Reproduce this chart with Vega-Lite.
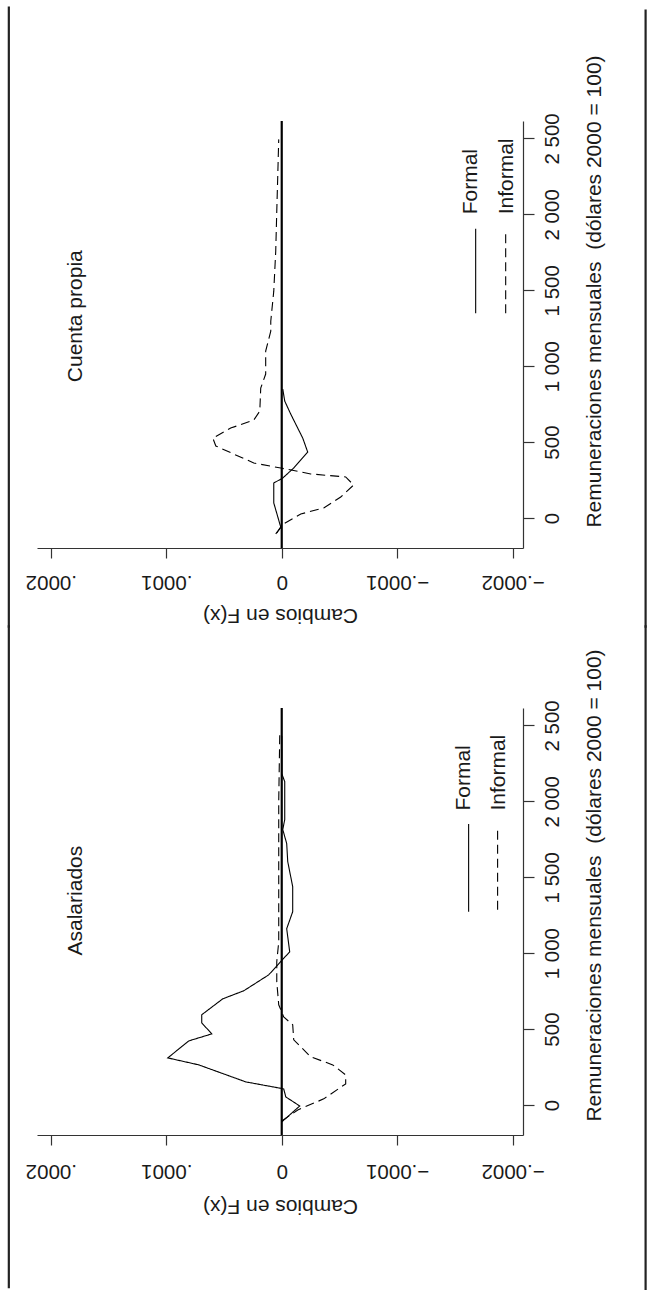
{
  "$schema": "https://vega.github.io/schema/vega-lite/v6.json",
  "padding": {"left": 7, "top": 5, "right": 0, "bottom": 0},
  "background": "white",
  "config": {
    "view": {"stroke": null},
    "font": "Liberation Sans",
    "axis": {"grid": false, "domainColor": "#333333", "domainWidth": 1.2, "tickColor": "#333333", "tickWidth": 1.2, "labelColor": "#1a1a1a", "titleColor": "#1a1a1a", "labelFontSize": 20.5, "titleFontSize": 21, "titleFontWeight": "normal", "tickSize": 10, "labelFont": "Liberation Sans", "titleFont": "Liberation Sans"}
  },
  "datasets": {
    "curves": [
      {"panel": "Asalariados", "tipo": "Formal", "rem": -112, "cambio": 0},
      {"panel": "Asalariados", "tipo": "Formal", "rem": -7, "cambio": -0.0000156},
      {"panel": "Asalariados", "tipo": "Formal", "rem": 53, "cambio": -0.0000035},
      {"panel": "Asalariados", "tipo": "Formal", "rem": 106, "cambio": -0.0000017},
      {"panel": "Asalariados", "tipo": "Formal", "rem": 152, "cambio": 0.0000312},
      {"panel": "Asalariados", "tipo": "Formal", "rem": 264, "cambio": 0.0000719},
      {"panel": "Asalariados", "tipo": "Formal", "rem": 310, "cambio": 0.0000987},
      {"panel": "Asalariados", "tipo": "Formal", "rem": 422, "cambio": 0.0000805},
      {"panel": "Asalariados", "tipo": "Formal", "rem": 468, "cambio": 0.0000606},
      {"panel": "Asalariados", "tipo": "Formal", "rem": 541, "cambio": 0.0000693},
      {"panel": "Asalariados", "tipo": "Formal", "rem": 594, "cambio": 0.0000693},
      {"panel": "Asalariados", "tipo": "Formal", "rem": 699, "cambio": 0.0000511},
      {"panel": "Asalariados", "tipo": "Formal", "rem": 752, "cambio": 0.0000329},
      {"panel": "Asalariados", "tipo": "Formal", "rem": 857, "cambio": 0.0000113},
      {"panel": "Asalariados", "tipo": "Formal", "rem": 1009, "cambio": -0.0000069},
      {"panel": "Asalariados", "tipo": "Formal", "rem": 1161, "cambio": -0.0000043},
      {"panel": "Asalariados", "tipo": "Formal", "rem": 1273, "cambio": -0.0000095},
      {"panel": "Asalariados", "tipo": "Formal", "rem": 1438, "cambio": -0.0000095},
      {"panel": "Asalariados", "tipo": "Formal", "rem": 1603, "cambio": -0.0000052},
      {"panel": "Asalariados", "tipo": "Formal", "rem": 1722, "cambio": -0.0000043},
      {"panel": "Asalariados", "tipo": "Formal", "rem": 1814, "cambio": -0.0000009},
      {"panel": "Asalariados", "tipo": "Formal", "rem": 1880, "cambio": -0.0000026},
      {"panel": "Asalariados", "tipo": "Formal", "rem": 2130, "cambio": -0.0000026},
      {"panel": "Asalariados", "tipo": "Formal", "rem": 2183, "cambio": 0},
      {"panel": "Asalariados", "tipo": "Formal", "rem": 2430, "cambio": 0},
      {"panel": "Asalariados", "tipo": "Informal", "rem": -106, "cambio": 0},
      {"panel": "Asalariados", "tipo": "Informal", "rem": -33, "cambio": -0.0000139},
      {"panel": "Asalariados", "tipo": "Informal", "rem": 40, "cambio": -0.0000364},
      {"panel": "Asalariados", "tipo": "Informal", "rem": 139, "cambio": -0.0000554},
      {"panel": "Asalariados", "tipo": "Informal", "rem": 198, "cambio": -0.0000554},
      {"panel": "Asalariados", "tipo": "Informal", "rem": 264, "cambio": -0.0000442},
      {"panel": "Asalariados", "tipo": "Informal", "rem": 317, "cambio": -0.0000251},
      {"panel": "Asalariados", "tipo": "Informal", "rem": 383, "cambio": -0.0000165},
      {"panel": "Asalariados", "tipo": "Informal", "rem": 429, "cambio": -0.0000104},
      {"panel": "Asalariados", "tipo": "Informal", "rem": 528, "cambio": -0.0000095},
      {"panel": "Asalariados", "tipo": "Informal", "rem": 580, "cambio": -0.0000017},
      {"panel": "Asalariados", "tipo": "Informal", "rem": 660, "cambio": 0.0000026},
      {"panel": "Asalariados", "tipo": "Informal", "rem": 811, "cambio": 0.0000043},
      {"panel": "Asalariados", "tipo": "Informal", "rem": 943, "cambio": 0.0000043},
      {"panel": "Asalariados", "tipo": "Informal", "rem": 1075, "cambio": 0.0000026},
      {"panel": "Asalariados", "tipo": "Informal", "rem": 2000, "cambio": 0.0000026},
      {"panel": "Asalariados", "tipo": "Informal", "rem": 2447, "cambio": 0.0000017},
      {"panel": "Cuenta propia", "tipo": "Formal", "rem": -99, "cambio": 0.0000043},
      {"panel": "Cuenta propia", "tipo": "Formal", "rem": -59, "cambio": 0.0000009},
      {"panel": "Cuenta propia", "tipo": "Formal", "rem": 99, "cambio": 0.0000069},
      {"panel": "Cuenta propia", "tipo": "Formal", "rem": 230, "cambio": 0.0000069},
      {"panel": "Cuenta propia", "tipo": "Formal", "rem": 263, "cambio": -0.0000009},
      {"panel": "Cuenta propia", "tipo": "Formal", "rem": 329, "cambio": -0.0000104},
      {"panel": "Cuenta propia", "tipo": "Formal", "rem": 434, "cambio": -0.0000225},
      {"panel": "Cuenta propia", "tipo": "Formal", "rem": 526, "cambio": -0.0000182},
      {"panel": "Cuenta propia", "tipo": "Formal", "rem": 684, "cambio": -0.0000078},
      {"panel": "Cuenta propia", "tipo": "Formal", "rem": 770, "cambio": -0.0000026},
      {"panel": "Cuenta propia", "tipo": "Formal", "rem": 849, "cambio": -0.0000009},
      {"panel": "Cuenta propia", "tipo": "Informal", "rem": -105, "cambio": 0.0000052},
      {"panel": "Cuenta propia", "tipo": "Informal", "rem": -39, "cambio": -0.0000017},
      {"panel": "Cuenta propia", "tipo": "Informal", "rem": 26, "cambio": -0.0000165},
      {"panel": "Cuenta propia", "tipo": "Informal", "rem": 66, "cambio": -0.0000364},
      {"panel": "Cuenta propia", "tipo": "Informal", "rem": 138, "cambio": -0.0000511},
      {"panel": "Cuenta propia", "tipo": "Informal", "rem": 217, "cambio": -0.0000623},
      {"panel": "Cuenta propia", "tipo": "Informal", "rem": 270, "cambio": -0.0000554},
      {"panel": "Cuenta propia", "tipo": "Informal", "rem": 290, "cambio": -0.0000251},
      {"panel": "Cuenta propia", "tipo": "Informal", "rem": 329, "cambio": 0.0000009},
      {"panel": "Cuenta propia", "tipo": "Informal", "rem": 362, "cambio": 0.0000242},
      {"panel": "Cuenta propia", "tipo": "Informal", "rem": 421, "cambio": 0.0000416},
      {"panel": "Cuenta propia", "tipo": "Informal", "rem": 474, "cambio": 0.0000571},
      {"panel": "Cuenta propia", "tipo": "Informal", "rem": 526, "cambio": 0.0000597},
      {"panel": "Cuenta propia", "tipo": "Informal", "rem": 592, "cambio": 0.0000442},
      {"panel": "Cuenta propia", "tipo": "Informal", "rem": 645, "cambio": 0.0000242},
      {"panel": "Cuenta propia", "tipo": "Informal", "rem": 704, "cambio": 0.000019},
      {"panel": "Cuenta propia", "tipo": "Informal", "rem": 855, "cambio": 0.0000182},
      {"panel": "Cuenta propia", "tipo": "Informal", "rem": 948, "cambio": 0.0000139},
      {"panel": "Cuenta propia", "tipo": "Informal", "rem": 1099, "cambio": 0.0000139},
      {"panel": "Cuenta propia", "tipo": "Informal", "rem": 1230, "cambio": 0.0000095},
      {"panel": "Cuenta propia", "tipo": "Informal", "rem": 1296, "cambio": 0.0000095},
      {"panel": "Cuenta propia", "tipo": "Informal", "rem": 1494, "cambio": 0.0000069},
      {"panel": "Cuenta propia", "tipo": "Informal", "rem": 1757, "cambio": 0.0000052},
      {"panel": "Cuenta propia", "tipo": "Informal", "rem": 2020, "cambio": 0.0000043},
      {"panel": "Cuenta propia", "tipo": "Informal", "rem": 2237, "cambio": 0.0000035},
      {"panel": "Cuenta propia", "tipo": "Informal", "rem": 2494, "cambio": 0.0000026}
    ]
  },
  "bounds": "flush",
  "spacing": 160,
  "vconcat": [
    {
      "width": 486,
      "height": 427,
      "layer": [
        {
          "data": {"name": "curves"},
          "transform": [{"filter": "datum.panel == 'Cuenta propia'"}],
          "mark": {"type": "line", "color": "black", "strokeWidth": 1.1},
          "encoding": {
            "x": {"field": "cambio", "type": "quantitative",
              "scale": {"domain": [-0.000209, 0.000212], "reverse": true, "nice": false, "zero": false},
              "axis": {"orient": "bottom", "values": [-0.0002, -0.0001, 0, 0.0001, 0.0002],
                "labelExpr": "datum.value == 0 ? '0' : (datum.value < 0 ? '\u2212' : '') + '.000' + format(abs(datum.value) * 10000, '.0f')",
                "labelAngle": 180, "labelAlign": "center", "labelBaseline": "middle", "labelPadding": 23, "labelFlush": false, "labelOverlap": false,
                "title": "Cambios en F(x)", "titleAngle": 180, "titleAlign": "center", "titleBaseline": "middle", "titleX": 243, "titleY": 66}},
            "y": {"field": "rem", "type": "quantitative",
              "scale": {"domain": [-198, 2615], "nice": false, "zero": false},
              "axis": {"orient": "right", "values": [0, 500, 1000, 1500, 2000, 2500],
                "labelExpr": "replace(format(datum.value, ','), ',', ' ')",
                "labelAngle": 270, "labelAlign": "center", "labelBaseline": "middle", "labelPadding": 18, "tickSize": 11, "labelFlush": false, "labelOverlap": false,
                "title": "Remuneraciones mensuales\u00a0 (dólares 2000 = 100)", "titleAngle": 270, "titleAlign": "center", "titleBaseline": "middle", "titleX": 71, "titleY": 170}},
            "order": {"field": "rem", "type": "quantitative"},
            "strokeDash": {"field": "tipo", "type": "nominal", "scale": {"domain": ["Formal", "Informal"], "range": [[1, 0], [9, 5]]}, "legend": null}
          }
        },
        {
          "data": {"values": [{}]},
          "mark": {"type": "rule", "color": "black", "strokeWidth": 2.2},
          "encoding": {"x": {"datum": 0}}
        },
        {
          "data": {"values": [{}]},
          "mark": {"type": "text", "angle": 270, "fontSize": 21, "align": "center", "baseline": "middle", "color": "#1a1a1a", "text": "Cuenta propia"},
          "encoding": {"x": {"datum": 0.000178}, "y": {"datum": 1329}}
        },
        {
          "data": {"values": [{}]},
          "mark": {"type": "rule", "color": "black", "strokeWidth": 1.1},
          "encoding": {"x": {"datum": -0.000168}, "y": {"datum": 1349}, "y2": {"datum": 1905}}
        },
        {
          "data": {"values": [{}]},
          "mark": {"type": "rule", "color": "black", "strokeWidth": 1.1, "strokeDash": [9, 5]},
          "encoding": {"x": {"datum": -0.000194}, "y": {"datum": 1349}, "y2": {"datum": 1890}}
        },
        {
          "data": {"values": [{}]},
          "mark": {"type": "text", "angle": 270, "fontSize": 21, "align": "left", "baseline": "middle", "color": "#1a1a1a", "text": "Formal"},
          "encoding": {"x": {"datum": -0.0001636}, "y": {"datum": 2000}}
        },
        {
          "data": {"values": [{}]},
          "mark": {"type": "text", "angle": 270, "fontSize": 21, "align": "left", "baseline": "middle", "color": "#1a1a1a", "text": "Informal"},
          "encoding": {"x": {"datum": -0.0001948}, "y": {"datum": 2000}}
        },
        {
          "data": {"values": [{}]},
          "mark": {"type": "rule", "color": "#222222", "strokeWidth": 2.2, "clip": false},
          "encoding": {"x": {"datum": 0.0002364}, "y": {"datum": 3369}, "y2": {"datum": -724}}
        },
        {
          "data": {"values": [{}]},
          "mark": {"type": "rule", "color": "#222222", "strokeWidth": 2.2, "clip": false},
          "encoding": {"x": {"datum": -0.0003152}, "y": {"datum": 3350}, "y2": {"datum": -724}}
        }
      ]
    },
    {
      "width": 486,
      "height": 427,
      "layer": [
        {
          "data": {"name": "curves"},
          "transform": [{"filter": "datum.panel == 'Asalariados'"}],
          "mark": {"type": "line", "color": "black", "strokeWidth": 1.1},
          "encoding": {
            "x": {"field": "cambio", "type": "quantitative",
              "scale": {"domain": [-0.000209, 0.000212], "reverse": true, "nice": false, "zero": false},
              "axis": {"orient": "bottom", "values": [-0.0002, -0.0001, 0, 0.0001, 0.0002],
                "labelExpr": "datum.value == 0 ? '0' : (datum.value < 0 ? '\u2212' : '') + '.000' + format(abs(datum.value) * 10000, '.0f')",
                "labelAngle": 180, "labelAlign": "center", "labelBaseline": "middle", "labelPadding": 25, "labelFlush": false, "labelOverlap": false,
                "title": "Cambios en F(x)", "titleAngle": 180, "titleAlign": "center", "titleBaseline": "middle", "titleX": 243, "titleY": 70}},
            "y": {"field": "rem", "type": "quantitative",
              "scale": {"domain": [-198, 2615], "nice": false, "zero": false},
              "axis": {"orient": "right", "values": [0, 500, 1000, 1500, 2000, 2500],
                "labelExpr": "replace(format(datum.value, ','), ',', ' ')",
                "labelAngle": 270, "labelAlign": "center", "labelBaseline": "middle", "labelPadding": 18, "tickSize": 11, "labelFlush": false, "labelOverlap": false,
                "title": "Remuneraciones mensuales\u00a0 (dólares 2000 = 100)", "titleAngle": 270, "titleAlign": "center", "titleBaseline": "middle", "titleX": 71, "titleY": 177}},
            "order": {"field": "rem", "type": "quantitative"},
            "strokeDash": {"field": "tipo", "type": "nominal", "scale": {"domain": ["Formal", "Informal"], "range": [[1, 0], [9, 5]]}, "legend": null}
          }
        },
        {
          "data": {"values": [{}]},
          "mark": {"type": "rule", "color": "black", "strokeWidth": 2.2},
          "encoding": {"x": {"datum": 0}}
        },
        {
          "data": {"values": [{}]},
          "mark": {"type": "text", "angle": 270, "fontSize": 21, "align": "center", "baseline": "middle", "color": "#1a1a1a", "text": "Asalariados"},
          "encoding": {"x": {"datum": 0.000178}, "y": {"datum": 1346}}
        },
        {
          "data": {"values": [{}]},
          "mark": {"type": "rule", "color": "black", "strokeWidth": 1.1},
          "encoding": {"x": {"datum": -0.0001619}, "y": {"datum": 1273}, "y2": {"datum": 1850}}
        },
        {
          "data": {"values": [{}]},
          "mark": {"type": "rule", "color": "black", "strokeWidth": 1.1, "strokeDash": [9, 5]},
          "encoding": {"x": {"datum": -0.000187}, "y": {"datum": 1286}, "y2": {"datum": 1814}}
        },
        {
          "data": {"values": [{}]},
          "mark": {"type": "text", "angle": 270, "fontSize": 21, "align": "left", "baseline": "middle", "color": "#1a1a1a", "text": "Formal"},
          "encoding": {"x": {"datum": -0.0001576}, "y": {"datum": 1939}}
        },
        {
          "data": {"values": [{}]},
          "mark": {"type": "text", "angle": 270, "fontSize": 21, "align": "left", "baseline": "middle", "color": "#1a1a1a", "text": "Informal"},
          "encoding": {"x": {"datum": -0.0001879}, "y": {"datum": 1939}}
        },
        {
          "data": {"values": [{}]},
          "mark": {"type": "rule", "color": "#222222", "strokeWidth": 2.2, "clip": false},
          "encoding": {"x": {"datum": 0.0002364}, "y": {"datum": 3160}, "y2": {"datum": -1207}}
        },
        {
          "data": {"values": [{}]},
          "mark": {"type": "rule", "color": "#222222", "strokeWidth": 2.2, "clip": false},
          "encoding": {"x": {"datum": -0.0003152}, "y": {"datum": 3160}, "y2": {"datum": -1220}}
        }
      ]
    }
  ]
}
